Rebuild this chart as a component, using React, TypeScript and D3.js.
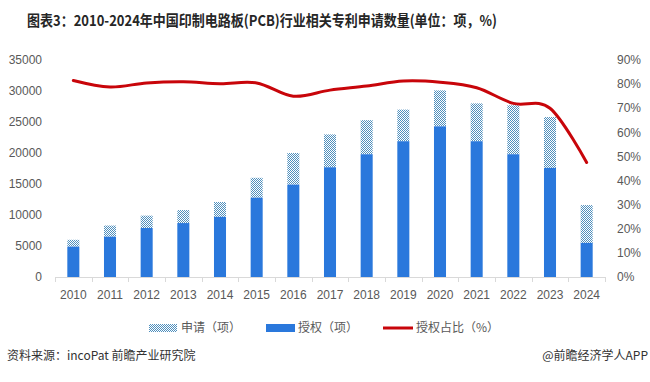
import React from "react";
import * as d3 from "d3";

const years = ["2010","2011","2012","2013","2014","2015","2016","2017","2018","2019","2020","2021","2022","2023","2024"];
const applied = [6000, 8300, 9900, 10800, 12100, 16000, 20000, 23000, 25300, 27000, 30100, 28000, 27700, 25800, 11600];
const granted = [4900, 6500, 7900, 8700, 9700, 12800, 14900, 17700, 19800, 21900, 24300, 21900, 19800, 17600, 5500];
const grantRatio = [81.5, 78.8, 80.5, 81, 80.2, 80.5, 75, 77.5, 79.2, 81.3, 80.8, 78.5, 72, 70, 47.5];
const leftTicks = [0, 5000, 10000, 15000, 20000, 25000, 30000, 35000];
const rightTicks = [0, 10, 20, 30, 40, 50, 60, 70, 80, 90];

const W = 650, H = 382;
const X0 = 55, X1 = 605, Y0 = 277, Y1 = 60;
const BLUE = "#2a78dc";
const PAT = "#4f8fbd";
const RED = "#c8050a";
const TXT = "#595959";
const NUM_FONT = "'Liberation Sans', Arial, sans-serif";
const CJK_FONT = "'Noto Sans CJK SC', 'Noto Sans', sans-serif";

export default function App() {
  const x = d3.scaleBand<string>().domain(years).range([X0, X1]).paddingInner(0.672).paddingOuter(0.336);
  const yL = d3.scaleLinear().domain([0, 35000]).range([Y0, Y1]);
  const yR = d3.scaleLinear().domain([0, 90]).range([Y0, Y1]);
  const bw = x.bandwidth();
  const step = x.step();
  const cx = (y: string) => (x(y) as number) + bw / 2;
  const line = d3.line<number>()
    .x((_, i) => cx(years[i]))
    .y((d) => yR(d))
    .curve(d3.curveCardinal.tension(0));
  const edges = d3.range(years.length + 1).map((i) => X0 + i * step);

  return (
    <svg width={W} height={H} style={{ position: "absolute", left: 0, top: 0, background: "#fff" }}>
      <defs>
        <pattern id="chk" width="2" height="2" patternUnits="userSpaceOnUse">
          <rect x="0" y="0" width="2" height="2" fill="#fff" />
          <rect x="0" y="0" width="1" height="1" fill={PAT} />
          <rect x="1" y="1" width="1" height="1" fill={PAT} />
        </pattern>
      </defs>
      <rect width={W} height={H} fill="#fff" />
      <text x={27} y={26} fontFamily={CJK_FONT} fontWeight="bold" fontSize={15} fill="#262626"
        textLength={470} lengthAdjust="spacingAndGlyphs">
        图表3：2010-2024年中国印制电路板(PCB)行业相关专利申请数量(单位：项，%)
      </text>

      {leftTicks.map((t) => (
        <text key={"l" + t} x={42} y={yL(t)} dy="0.35em" textAnchor="end" fontFamily={NUM_FONT} fontSize={12} fill={TXT}>{t}</text>
      ))}
      {rightTicks.map((t) => (
        <text key={"r" + t} x={617} y={yR(t)} dy="0.35em" textAnchor="start" fontFamily={NUM_FONT} fontSize={12} fill={TXT}>{t + "%"}</text>
      ))}

      {years.map((yr, i) => (
        <g key={yr}>
          <rect x={x(yr)} y={yL(applied[i])} width={bw} height={yL(granted[i]) - yL(applied[i])} fill="url(#chk)" />
          <rect x={x(yr)} y={yL(granted[i])} width={bw} height={Y0 - yL(granted[i])} fill={BLUE} />
          <text x={cx(yr)} y={295} dy="0.35em" textAnchor="middle" fontFamily={NUM_FONT} fontSize={12} fill={TXT}>{yr}</text>
        </g>
      ))}

      <line x1={X0} x2={X1} y1={Y0 + 0.5} y2={Y0 + 0.5} stroke="#d9d9d9" strokeWidth={1} />
      {edges.map((e, i) => (
        <line key={"t" + i} x1={Math.round(e) + 0.5} x2={Math.round(e) + 0.5} y1={Y0} y2={Y0 + 5} stroke="#d9d9d9" strokeWidth={1} />
      ))}

      <path d={line(grantRatio) || ""} fill="none" stroke={RED} strokeWidth={3} strokeLinecap="round" />

      <g fontFamily={CJK_FONT} fontSize={12} fill={TXT}>
        <rect x={149} y={324} width={28} height={8} fill="url(#chk)" />
        <text x={181} y={328} dy="0.35em">申请（项）</text>
        <rect x={266} y={324} width={29} height={8} fill={BLUE} />
        <text x={298} y={328} dy="0.35em">授权（项）</text>
        <line x1={383} x2={413} y1={328} y2={328} stroke={RED} strokeWidth={3} />
        <text x={416} y={328} dy="0.35em">授权占比（%）</text>
      </g>

      <g fontFamily={CJK_FONT} fontSize={12} fill="#333">
        <text x={7} y={356} dy="0.35em">资料来源：incoPat 前瞻产业研究院</text>
        <text x={648} y={356} dy="0.35em" textAnchor="end">@前瞻经济学人APP</text>
      </g>
    </svg>
  );
}
